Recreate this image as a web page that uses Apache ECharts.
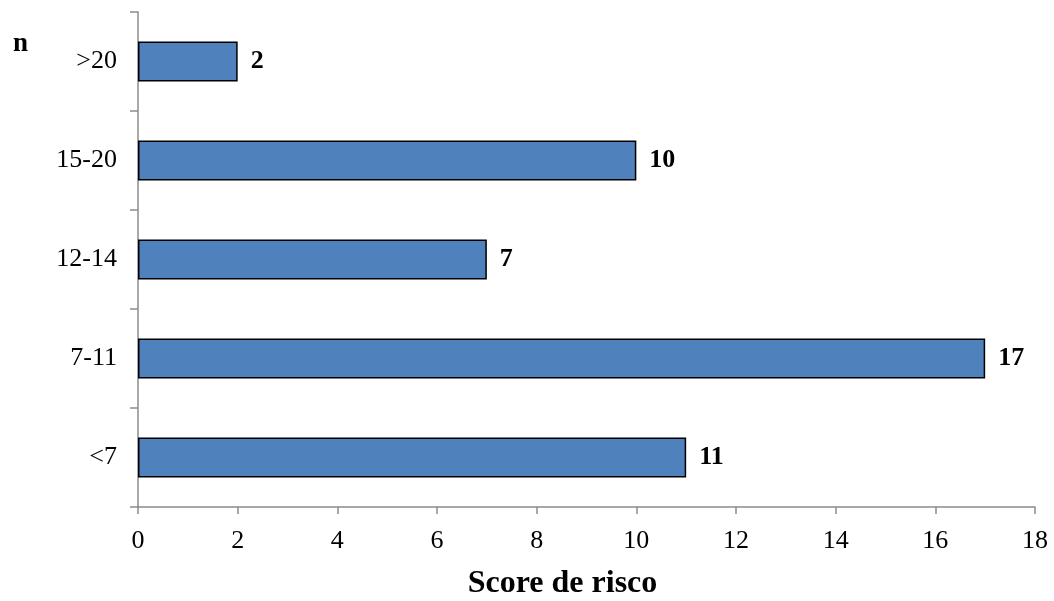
<!DOCTYPE html>
<html>
<head>
<meta charset="utf-8">
<script src="https://cdn.jsdelivr.net/npm/echarts@6/dist/echarts.min.js"></script>
<style>
  html, body { margin: 0; padding: 0; background: #fff; }
  #chart { width: 1054px; height: 601px; }
</style>
</head>
<body>
<div id="chart"></div>
<script>
// categorias de baixo para cima
let categories = ['<7', '7-11', '12-14', '15-20', '>20']
let counts = [11, 17, 7, 10, 2]
let xTicks = [0, 2, 4, 6, 8, 10, 12, 14, 16, 18]

let myChart = echarts.init(document.getElementById('chart'))
let serif = '"Liberation Serif", "Times New Roman", serif'
let axisGrey = '#8c8c8c'

let option = {
  animation: false,
  textStyle: { fontFamily: serif },
  title: {
    text: 'n',
    left: 8,
    top: 26,
    textStyle: { fontFamily: serif, fontWeight: 'bold', fontSize: 27, color: '#000' }
  },
  grid: { left: 138, right: 19, top: 12, bottom: 94, containLabel: false, outerBoundsMode: 'none' },
  xAxis: {
    type: 'value',
    min: xTicks[0],
    max: xTicks[xTicks.length - 1],
    interval: 2,
    name: 'Score de risco',
    nameLocation: 'middle',
    nameGap: 61,
    nameTextStyle: { fontFamily: serif, fontWeight: 'bold', fontSize: 32, color: '#000', padding: [0, 48, 0, 0] },
    axisLine: { show: true, lineStyle: { color: axisGrey, width: 1.5 } },
    axisTick: { show: true, length: 7, lineStyle: { color: axisGrey, width: 1.5 } },
    axisLabel: { fontFamily: serif, fontSize: 26, color: '#000', margin: 21 },
    splitLine: { show: false }
  },
  yAxis: {
    type: 'category',
    data: categories,
    axisLine: { show: true, lineStyle: { color: axisGrey, width: 1.5 } },
    axisTick: { show: true, length: 8, lineStyle: { color: axisGrey, width: 1.5 } },
    axisLabel: { fontFamily: serif, fontSize: 26, color: '#000', margin: 21 }
  },
  series: [{
    type: 'bar',
    data: counts,
    barWidth: 40,
    itemStyle: { color: '#4F81BD', borderColor: '#000', borderWidth: 1.5 },
    label: {
      show: true,
      position: 'right',
      distance: 13,
      fontFamily: serif,
      fontWeight: 'bold',
      fontSize: 26,
      color: '#000'
    }
  }]
}
myChart.setOption(option)
</script>
</body>
</html>
